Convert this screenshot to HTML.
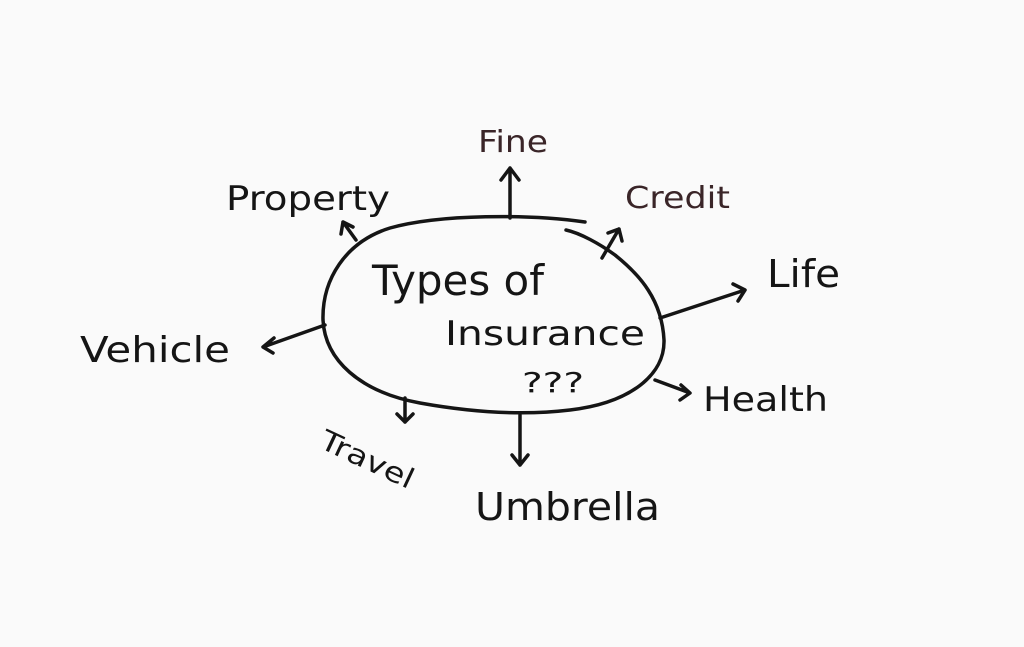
<!DOCTYPE html>
<html><head><meta charset="utf-8"><style>
html,body{margin:0;padding:0;background:#fafafa;}
svg{display:block}
text{font-family:"DejaVu Sans","Liberation Sans",sans-serif;fill:#151515}
</style></head><body>
<svg width="1024" height="647" viewBox="0 0 1024 647" xmlns="http://www.w3.org/2000/svg">
<rect width="1024" height="647" fill="#fafafa"/>
<g fill="none" stroke="#151515" stroke-width="3.5" stroke-linecap="round" stroke-linejoin="round">
<path d="M585,222 C530,214 440,214 390,228 C345,242 322,280 323,320 C325,360 360,392 420,403 C470,412 520,416 570,410 C630,403 665,375 664,340 C662,300 640,275 615,255 C600,244 580,233 566,230"/>
<path d="M510,218 L510,168 M501,180 L510,168 L519,180"/>
<path d="M602,258 L619,229 M608,233 L619,229 L622,241"/>
<path d="M660,318 L745,290 M733,284 L745,290 L738,301"/>
<path d="M655,380 L690,393 M681,385 L690,393 L680,400"/>
<path d="M520,415 L520,465 M512,455 L520,465 L528,455"/>
<path d="M405,398 L405,422 M397,414 L405,422 L413,414"/>
<path d="M325,325 L263,347 M274,338 L263,347 L273,353"/>
<path d="M356,240 L343,222 M341,234 L343,222 L353,227"/>
</g>
<text x="372" y="295" font-size="42" textLength="172" lengthAdjust="spacingAndGlyphs">Types of</text>
<text x="445" y="345" font-size="34" textLength="200" lengthAdjust="spacingAndGlyphs">Insurance</text>
<text x="522" y="392" font-size="28" textLength="62" lengthAdjust="spacingAndGlyphs">???</text>
<text x="478" y="152" font-size="30" textLength="70" lengthAdjust="spacingAndGlyphs" style="fill:#3a2528">Fine</text>
<text x="625" y="208" font-size="30" textLength="105" lengthAdjust="spacingAndGlyphs" style="fill:#3a2528">Credit</text>
<text x="226" y="210" font-size="34" textLength="164" lengthAdjust="spacingAndGlyphs">Property</text>
<text x="767" y="287" font-size="38" textLength="73" lengthAdjust="spacingAndGlyphs">Life</text>
<text x="80" y="362" font-size="36" textLength="150" lengthAdjust="spacingAndGlyphs">Vehicle</text>
<text x="703" y="411" font-size="34" textLength="125" lengthAdjust="spacingAndGlyphs">Health</text>
<text x="475" y="520" font-size="38" textLength="185" lengthAdjust="spacingAndGlyphs">Umbrella</text>
<text x="318" y="447" font-size="28" textLength="100" lengthAdjust="spacingAndGlyphs" transform="rotate(25 318 447)">Travel</text>
</svg>
</body></html>
